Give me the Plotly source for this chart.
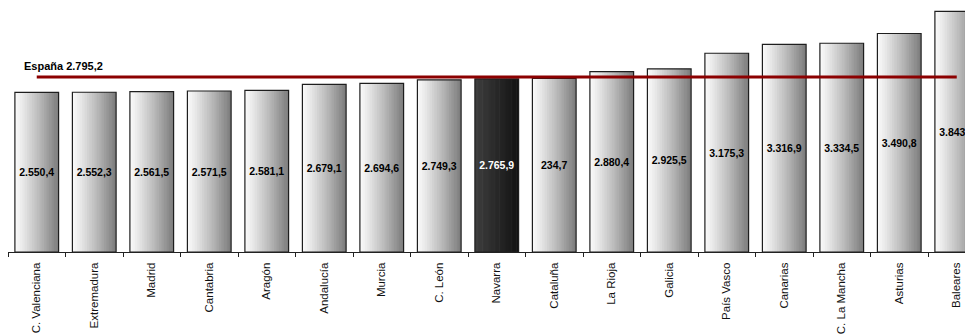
import plotly.graph_objects as go

categories = ["C. Valenciana", "Extremadura", "Madrid", "Cantabria", "Aragón",
              "Andalucía", "Murcia", "C. León", "Navarra", "Cataluña", "La Rioja",
              "Galicia", "País Vasco", "Canarias", "C. La Mancha", "Asturias", "Baleares"]
values = [2550.4, 2552.3, 2561.5, 2571.5, 2581.1, 2679.1, 2694.6, 2749.3, 2765.9,
          2774.7, 2880.4, 2925.5, 3175.3, 3316.9, 3334.5, 3490.8, 3843.3]
value_labels = ["2.550,4", "2.552,3", "2.561,5", "2.571,5", "2.581,1", "2.679,1",
                "2.694,6", "2.749,3", "2.765,9", "234,7", "2.880,4", "2.925,5",
                "3.175,3", "3.316,9", "3.334,5", "3.490,8", "3.843,3"]
highlight = "Navarra"
espana_value = 2795.2
espana_label = "España 2.795,2"

FONT = "Arial, Liberation Sans, sans-serif"
BW = 0.76
N = 18
CAT_PX = 57.5
PX_PER_UNIT = 0.0626
FIG_W, FIG_H = 973, 335
MB = 91

def shade(t, dark):
    if dark:
        g = int(round(62 - 44 * t))
    else:
        g = int(round(250 - 128 * (t ** 1.15)))
    return f"rgb({g},{g},{g})"

fig = go.Figure()
for k in range(N):
    t = (k + 0.5) / N
    colors = [shade(t, c == highlight) for c in categories]
    w = BW / N * (1.25 if k < N - 1 else 1.0)
    fig.add_trace(go.Bar(
        x=categories, y=values, width=w, offset=-BW / 2 + k * BW / N,
        marker=dict(color=colors, line=dict(width=0)),
        hoverinfo="skip", showlegend=False))

fig.add_trace(go.Bar(
    x=categories, y=values, width=BW, offset=-BW / 2,
    marker=dict(color="rgba(0,0,0,0)", line=dict(color="#1e1e1e", width=1.2)),
    text=["<b>" + s + "</b>" for s in value_labels],
    textposition="inside", insidetextanchor="middle",
    textangle=0, constraintext="none",
    textfont=dict(family=FONT, size=10.5,
                  color=["white" if c == highlight else "black" for c in categories]),
    showlegend=False, hoverinfo="skip"))

fig.add_trace(go.Scatter(
    x=[categories[0], categories[-1]], y=[espana_value, espana_value],
    mode="lines", line=dict(color="#8c0000", width=3),
    showlegend=False, hoverinfo="skip"))

fig.add_annotation(
    x=-0.25, y=espana_value, xref="x", yref="y", text="<b>" + espana_label + "</b>",
    showarrow=False, xanchor="left", yanchor="bottom", yshift=3,
    font=dict(family=FONT, size=11, color="black"))

plot_h = FIG_H - MB
fig.update_layout(
    width=FIG_W, height=FIG_H, barmode="overlay",
    margin=dict(l=0, r=0, t=0, b=MB, autoexpand=False),
    paper_bgcolor="white", plot_bgcolor="white",
    xaxis=dict(type="category", categoryorder="array", categoryarray=categories,
               range=[-0.5, -0.5 + FIG_W / CAT_PX], tickson="boundaries",
               ticks="outside", ticklen=4, tickcolor="#222", tickwidth=1,
               showline=True, linecolor="#222", linewidth=1, showgrid=False,
               tickangle=-90, automargin=False, ticklabelstandoff=5,
               tickfont=dict(family=FONT, size=11.5, color="#111")),
    yaxis=dict(range=[0, plot_h / PX_PER_UNIT], visible=False, showgrid=False,
               zeroline=False, fixedrange=True),
    font=dict(family=FONT),
)

fig.write_html("out.html")
